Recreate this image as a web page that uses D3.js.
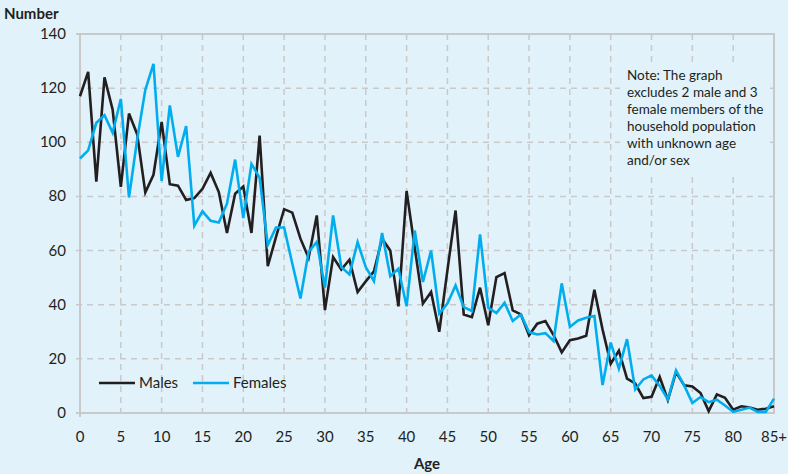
<!DOCTYPE html>
<html>
<head>
<meta charset="utf-8">
<script src="https://cdn.jsdelivr.net/npm/d3@7"></script>
<style>
	html, body { margin: 0; padding: 0; background: #e1f2fa; }
	svg { display: block; font-family: Lato, 'Open Sans', sans-serif; }
</style>
</head>
<body>
<svg id="chart" width="788" height="474"></svg>
<script>
// ages 0 .. 85+ (one point per year)
var ages    = d3.range( 0, 86 );
var males   = [
	  117, 126, 85.5, 124, 112, 83.5, 110.6, 103, 81.5, 88
	, 107.5, 84.5, 84, 78.7, 79.4, 82.8, 88.7, 81.6, 66.5, 81
	, 83.7, 66.5, 102.5, 54.2, 65, 75.3, 74, 64.4, 57.3, 73
	, 38, 57.6, 53, 56.6, 44.7, 48.6, 52.3, 64.4, 60, 39.4
	, 82, 61, 40.4, 44.7, 30, 52.7, 74.8, 36.4, 35.4, 46.3
	, 32.4, 50.2, 51.7, 37.9, 36.4, 28.7, 33, 34, 28.8, 22.4
	, 26.9, 27.5, 28.5, 45.5, 30.9, 18.2, 23, 12.7, 10.9, 5.5
	, 6, 13.3, 4.8, 15.1, 10.2, 9.8, 7.4, 0.7, 6.9, 5.6
	, 1.2, 2.5, 2, 1.2, 1.6, 2.5
];
var females = [
	  94, 97, 107.2, 110, 103.5, 116, 79.6, 101, 119.4, 129
	, 85.7, 113.6, 94.6, 106, 69.2, 74.5, 71, 70.4, 77.3, 93.6
	, 72, 92, 86.9, 62, 68.5, 68.5, 55.2, 42.3, 59.5, 63.2
	, 46.3, 73, 53.9, 51.2, 63.1, 53.9, 48.7, 66.5, 50.5, 53.3
	, 39.4, 67.4, 48.4, 60, 36.7, 40.4, 47.1, 39.1, 37.7, 66
	, 38.9, 36.9, 40.7, 34, 36.4, 29.9, 29, 29.5, 26.6, 47.9
	, 31.8, 34.2, 35.2, 35.8, 10.3, 26, 16.4, 27.3, 8.7, 12.4
	, 13.9, 10, 5, 15.7, 10.2, 3.7, 5.9, 4, 4.9, 2.8
	, 0.4, 1.2, 2, 0.4, 0.4, 5.3
];
var xTicks  = d3.range( 0, 86, 5 );
var yTicks  = d3.range( 0, 141, 20 );
var series  = [
	  { name: 'Males',   values: males,   color: '#231f20' }
	, { name: 'Females', values: females, color: '#00aeef' }
];
var noteLines = [
	  'Note: The graph'
	, 'excludes 2 male and 3'
	, 'female members of the'
	, 'household population'
	, 'with unknown age'
	, 'and/or sex'
];

var svg    = d3.select( '#chart' );
var plot   = { left: 80, right: 774, top: 34, bottom: 413 };
var xScale = d3.scaleLinear().domain( [ 0, 85 ] ).range( [ plot.left, plot.right ] );
var yScale = d3.scaleLinear().domain( [ 0, 140 ] ).range( [ plot.bottom, plot.top ] );
var grid   = '#c9c9c9';
var ink    = '#231f20';

// dashed grid
svg.append( 'g' )
	.selectAll( 'line' )
	.data( yTicks.filter( d => d > 0 && d < 140 ) )
	.join( 'line' )
	.attr( 'x1', plot.left - 4 )
	.attr( 'x2', plot.right )
	.attr( 'y1', d => yScale( d ) )
	.attr( 'y2', d => yScale( d ) )
	.attr( 'stroke', grid )
	.attr( 'stroke-width', 1.5 )
	.attr( 'stroke-dasharray', '6,5' );
svg.append( 'g' )
	.selectAll( 'line' )
	.data( xTicks.filter( d => d > 0 ) )
	.join( 'line' )
	.attr( 'x1', d => xScale( d ) )
	.attr( 'x2', d => xScale( d ) )
	.attr( 'y1', plot.top )
	.attr( 'y2', plot.bottom + 4 )
	.attr( 'stroke', grid )
	.attr( 'stroke-width', 1.5 )
	.attr( 'stroke-dasharray', '6,5' );

// frame
svg.append( 'path' )
	.attr( 'd', 'M'+ ( plot.left - 4 ) +','+ plot.top +'H'+ plot.right +'V'+ plot.bottom +'H'+ ( plot.left - 4 )
		+'M'+ plot.left +','+ plot.top +'V'+ ( plot.bottom + 4 ) )
	.attr( 'fill', 'none' )
	.attr( 'stroke', grid )
	.attr( 'stroke-width', 2 );

// note box hides grid behind it
var note = svg.append( 'g' );
note.append( 'rect' )
	.attr( 'x', 620 )
	.attr( 'y', 62 )
	.attr( 'width', 150 )
	.attr( 'height', 115 )
	.attr( 'fill', '#e1f2fa' );
note.selectAll( 'text' )
	.data( noteLines )
	.join( 'text' )
	.attr( 'x', 627 )
	.attr( 'y', ( d, i ) => 80 + i * 17 )
	.attr( 'font-size', 13.5 )
	.attr( 'fill', ink )
	.text( d => d );

// axis labels
svg.append( 'g' )
	.selectAll( 'text' )
	.data( yTicks )
	.join( 'text' )
	.attr( 'x', 66 )
	.attr( 'y', d => yScale( d ) + 5 )
	.attr( 'text-anchor', 'end' )
	.attr( 'font-size', 15 )
	.attr( 'fill', ink )
	.text( d => d );
svg.append( 'g' )
	.selectAll( 'text' )
	.data( xTicks )
	.join( 'text' )
	.attr( 'x', d => xScale( d ) )
	.attr( 'y', 442 )
	.attr( 'text-anchor', 'middle' )
	.attr( 'font-size', 15 )
	.attr( 'fill', ink )
	.text( d => d === 85 ? '85+' : d );
svg.append( 'text' )
	.attr( 'x', 4 )
	.attr( 'y', 19 )
	.attr( 'font-size', 15 )
	.attr( 'font-weight', 'bold' )
	.attr( 'fill', ink )
	.text( 'Number' );
svg.append( 'text' )
	.attr( 'x', 427 )
	.attr( 'y', 469 )
	.attr( 'text-anchor', 'middle' )
	.attr( 'font-size', 15 )
	.attr( 'font-weight', 'bold' )
	.attr( 'fill', ink )
	.text( 'Age' );

// lines
var line = d3.line()
	.x( ( d, i ) => xScale( ages[ i ] ) )
	.y( d => yScale( d ) );
svg.append( 'g' )
	.selectAll( 'path' )
	.data( series )
	.join( 'path' )
	.attr( 'd', d => line( d.values ) )
	.attr( 'fill', 'none' )
	.attr( 'stroke', d => d.color )
	.attr( 'stroke-width', 2.6 )
	.attr( 'stroke-linejoin', 'miter' );

// legend
var legend = svg.append( 'g' )
	.selectAll( 'g' )
	.data( series )
	.join( 'g' )
	.attr( 'transform', ( d, i ) => 'translate('+ [ 99, 193 ][ i ] +',383)' );
legend.append( 'line' )
	.attr( 'x1', 0 )
	.attr( 'x2', 36 )
	.attr( 'stroke', d => d.color )
	.attr( 'stroke-width', 2.6 );
legend.append( 'text' )
	.attr( 'x', 40 )
	.attr( 'y', 5 )
	.attr( 'font-size', 15 )
	.attr( 'fill', ink )
	.text( d => d.name );
</script>
</body>
</html>
